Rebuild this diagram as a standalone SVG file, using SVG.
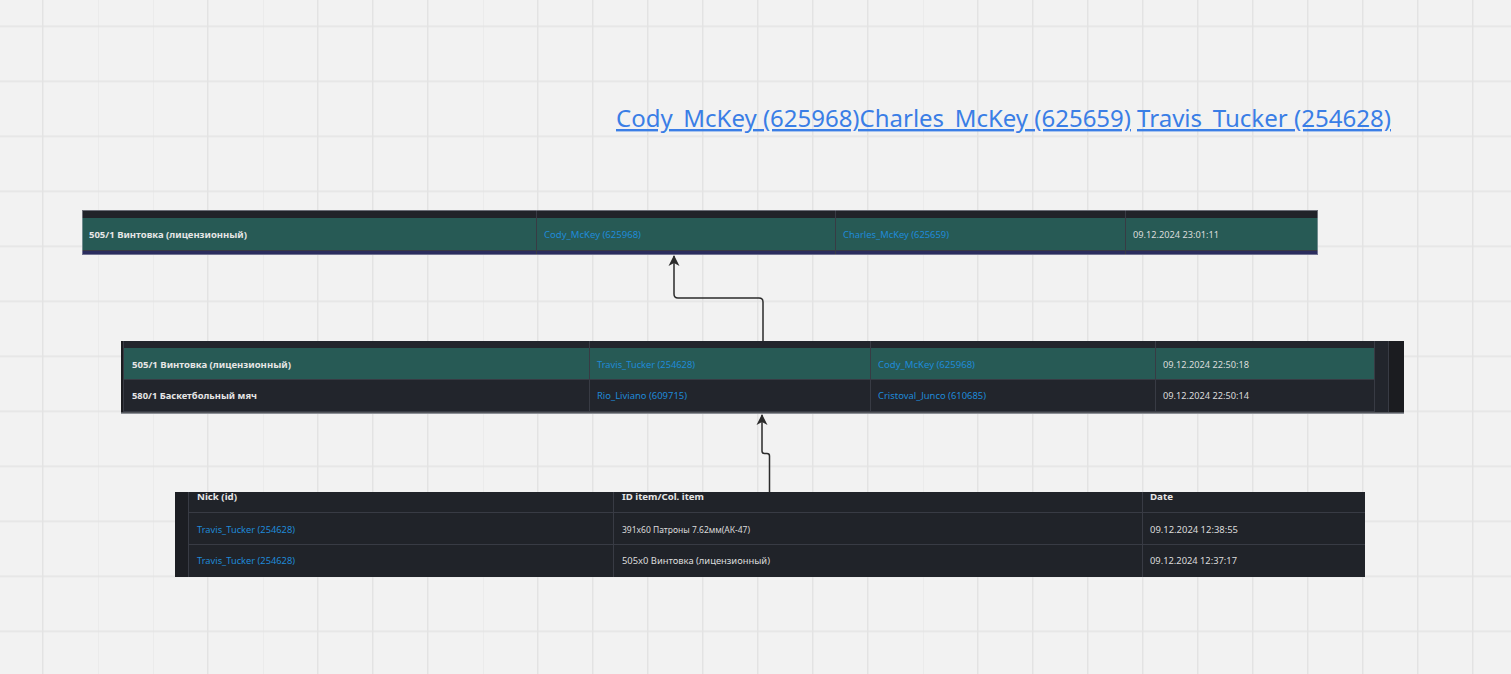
<svg xmlns="http://www.w3.org/2000/svg" width="1511" height="674" viewBox="0 0 1511 674">
<defs>
<pattern id="grid" patternUnits="userSpaceOnUse" x="42" y="25.5" width="55" height="55">
<path d="M0.75 0V55M0 0.75H55" stroke="#e3e3e3" stroke-width="1.5" fill="none"/>
</pattern>
<marker id="arr" markerUnits="userSpaceOnUse" markerWidth="12" markerHeight="12" refX="10" refY="6" orient="auto">
<path d="M0 0.5 L11 6 L0 11.5 L3 6 Z" fill="#2b2b2b"/>
</marker>
<style>
.t{font-family:"Noto Sans","Open Sans","Liberation Sans",sans-serif;font-size:9.5px;dominant-baseline:central}
.b{fill:#e6e6e6;font-weight:bold}
.l{fill:#1f8ad8}
.d{fill:#dcdcdc}
.h{fill:#e6e6e6;font-weight:bold}
.cell{stroke:#383b44;stroke-width:1}
.con{fill:none;stroke:#2b2b2b;stroke-width:1.5}
.ti{font-family:"Noto Sans","Open Sans",sans-serif;font-size:24px;fill:#3a7ee6;text-decoration:underline}
</style>
</defs>
<rect width="1511" height="674" fill="#f2f2f2"/>
<rect width="1511" height="674" fill="url(#grid)"/>

<g id="title">
<text class="ti" x="616" y="127" textLength="515" lengthAdjust="spacingAndGlyphs">Cody_McKey (625968)Charles_McKey (625659)</text>
<text class="ti" x="1137" y="127" textLength="254" lengthAdjust="spacingAndGlyphs">Travis_Tucker (254628)</text>
</g>

<g id="table1">
<rect x="82" y="210" width="1236" height="45" fill="#212329"/>
<rect x="82" y="218" width="1236" height="32" fill="#275a55"/>
<rect x="82" y="250" width="1236" height="5" fill="#2b2d5e"/>
<path class="cell" d="M536.5 210V255M835.5 210V255M1125.5 210V255M82 250.5H1318"/>
<rect x="82.5" y="210.5" width="1235" height="44" fill="none" stroke="#b9bcc7" stroke-width="1" stroke-opacity="0.5"/>
<text class="t b" x="89" y="234" textLength="158" lengthAdjust="spacingAndGlyphs">505/1 Винтовка (лицензионный)</text>
<text class="t l" x="544" y="234" textLength="97" lengthAdjust="spacingAndGlyphs">Cody_McKey (625968)</text>
<text class="t l" x="843" y="234" textLength="106" lengthAdjust="spacingAndGlyphs">Charles_McKey (625659)</text>
<text class="t d" x="1133" y="234" textLength="86" lengthAdjust="spacingAndGlyphs">09.12.2024 23:01:11</text>
</g>

<g id="table2">
<rect x="121" y="341" width="1283" height="73" fill="#1b1c20"/>
<rect x="123" y="341" width="1265" height="71" fill="#22252c"/>
<rect x="124" y="348" width="1250" height="31.5" fill="#275a55"/>
<path class="cell" d="M123.5 341V412M589.5 341V412M870.5 341V412M1155.5 341V412M1374.5 341V412M1388.5 341V412M124 379.5H1374M124 411.5H1374"/>
<rect x="121" y="412.5" width="1283" height="1.5" fill="#8c8f96"/>
<text class="t b" x="132" y="364" textLength="159" lengthAdjust="spacingAndGlyphs">505/1 Винтовка (лицензионный)</text>
<text class="t l" x="597" y="364" textLength="98" lengthAdjust="spacingAndGlyphs">Travis_Tucker (254628)</text>
<text class="t l" x="878" y="364" textLength="97" lengthAdjust="spacingAndGlyphs">Cody_McKey (625968)</text>
<text class="t d" x="1163" y="364" textLength="86" lengthAdjust="spacingAndGlyphs">09.12.2024 22:50:18</text>
<text class="t b" x="132" y="395" textLength="125" lengthAdjust="spacingAndGlyphs">580/1 Баскетбольный мяч</text>
<text class="t l" x="597" y="395" textLength="90" lengthAdjust="spacingAndGlyphs">Rio_Liviano (609715)</text>
<text class="t l" x="878" y="395" textLength="108" lengthAdjust="spacingAndGlyphs">Cristoval_Junco (610685)</text>
<text class="t d" x="1163" y="395" textLength="86" lengthAdjust="spacingAndGlyphs">09.12.2024 22:50:14</text>
</g>

<g id="table3">
<rect x="175" y="492" width="1190" height="85" fill="#202329"/>
<rect x="175" y="492" width="13" height="85" fill="#1c1e23"/>
<path class="cell" d="M188.5 492V577M613.5 492V577M1142.5 492V577M188 512.5H1365M188 544.5H1365"/>
<text class="t h" x="197" y="496" textLength="40" lengthAdjust="spacingAndGlyphs">Nick (id)</text>
<text class="t h" x="622" y="496" textLength="82" lengthAdjust="spacingAndGlyphs">ID item/Col. item</text>
<text class="t h" x="1150" y="496" textLength="23" lengthAdjust="spacingAndGlyphs">Date</text>
<text class="t l" x="197" y="529" textLength="98" lengthAdjust="spacingAndGlyphs">Travis_Tucker (254628)</text>
<text class="t d" x="622" y="529" textLength="128" lengthAdjust="spacingAndGlyphs">391x60 Патроны 7.62мм(АК-47)</text>
<text class="t d" x="1150" y="529" textLength="88" lengthAdjust="spacingAndGlyphs">09.12.2024 12:38:55</text>
<text class="t l" x="197" y="560" textLength="98" lengthAdjust="spacingAndGlyphs">Travis_Tucker (254628)</text>
<text class="t d" x="622" y="560" textLength="148" lengthAdjust="spacingAndGlyphs">505x0 Винтовка (лицензионный)</text>
<text class="t d" x="1150" y="560" textLength="87" lengthAdjust="spacingAndGlyphs">09.12.2024 12:37:17</text>
</g>

<g id="connectors">
<path class="con" d="M763 341V302Q763 298 759 298H678Q674 298 674 294V256" marker-end="url(#arr)"/>
<path class="con" d="M769.5 492V456Q769.5 453.5 767 453.5H764.5Q762 453.5 762 451V415" marker-end="url(#arr)"/>
</g>
</svg>
